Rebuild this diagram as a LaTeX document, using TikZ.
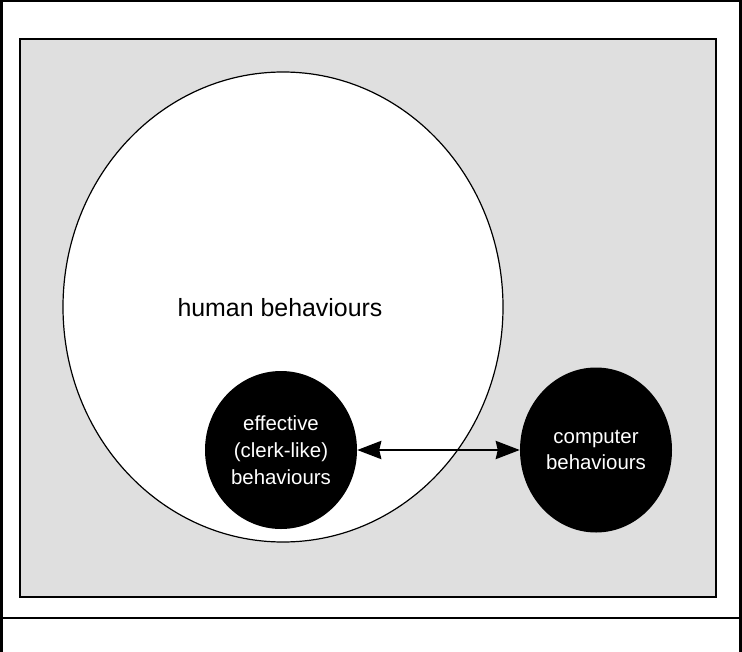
\documentclass[tikz,border=0pt]{standalone}
\usepackage{fontspec}
\setmainfont{Liberation Sans}
\usetikzlibrary{shapes.geometric,arrows.meta}
\definecolor{panelgrey}{HTML}{DFDFDF}
\tikzset{
  frameline/.style={line width=2.5bp, black},
  panel/.style={draw=black, line width=2bp, fill=panelgrey},
  bigset/.style={draw=black, line width=1.2bp, fill=white, ellipse, inner sep=0pt},
  blackset/.style={ellipse, fill=black, draw=none, inner sep=0pt, text=white, align=center,
     font=\fontsize{20.5}{27}\selectfont},
  biglabel/.style={font=\fontsize{25}{30}\selectfont, inner sep=0pt},
  linkarrow/.style={line width=2.8bp, {Stealth[length=24bp,width=18bp,inset=2bp]}-{Stealth[length=24bp,width=18bp,inset=2bp]}}
}
\begin{document}
\begin{tikzpicture}[x=1bp,y=-1bp]
\useasboundingbox (0,0) rectangle (742,652);
\fill[white] (0,0) rectangle (742,652);
% outer frame
\draw[frameline] (1.25,652) -- (1.25,1.25) -- (740.5,1.25) -- (740.5,652);
\draw[frameline, line width=2bp] (0,618) -- (742,618);
% grey panel
\draw[panel] (20,39) rectangle (716,597);
% large ellipse
\node[bigset, minimum width=440bp, minimum height=470bp] (human) at (283,307) {};
\node[biglabel] (humanlabel) at (280,308) {human behaviours};
% black ellipses
\node[blackset, minimum width=152bp, minimum height=158bp] (eff) at (281,450) {effective\\(clerk-like)\\behaviours};
\node[blackset, minimum width=152bp, minimum height=165bp] (comp) at (596,450) {computer\\behaviours};
% arrow
\draw[linkarrow] (eff.east) -- (comp.west);
\end{tikzpicture}
\end{document}
